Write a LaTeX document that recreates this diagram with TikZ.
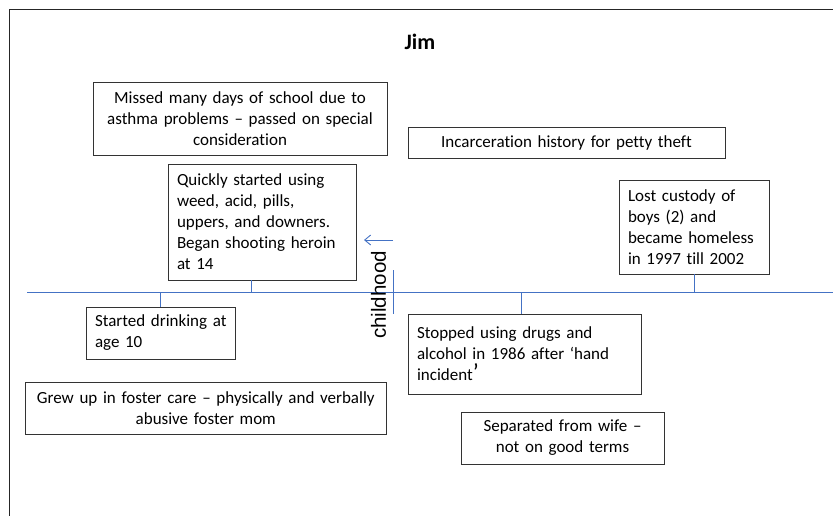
\documentclass[tikz,border=0pt]{standalone}
\usepackage{fontspec}
\setmainfont{Carlito}[Ligatures={NoCommon}]
\newfontfamily\sidefont{Liberation Sans}
\usetikzlibrary{arrows.meta}
\definecolor{tlblue}{HTML}{4472C4}
\newcommand\bodyf{\fontsize{17}{21}\selectfont}
\newcommand\oneln[1]{\mbox{#1}}
\tikzset{
  evbox/.style={draw=black!80, line width=0.9pt, inner xsep=9pt, inner ysep=0pt, font=\bodyf},
  tl/.style={draw=tlblue, line width=0.9pt},
}
\begin{document}
\begin{tikzpicture}[x=1pt,y=-1pt]
\useasboundingbox (0,0) rectangle (833,515);
% frame
\draw[black!85, line width=1.6pt] (840,9.5) -- (9.5,9.5) -- (9.5,520);
% title
\node[font=\fontsize{22}{26}\selectfont\bfseries] (title) at (420,42) {Jim};
% boxes
\node[evbox, minimum width=294pt, text width=276pt, minimum height=73pt, align=center] (missed) at (240,118.5)
  {\oneln{Missed many days of school due to}\\\oneln{asthma problems -- passed on special}\\consideration};
\node[evbox, minimum width=317pt, text width=299pt, minimum height=31pt, align=center] (incar) at (566.5,142.5)
  {\oneln{Incarceration history for petty theft}};
\node[evbox, minimum width=188pt, text width=170pt, minimum height=116pt, align=left] (quick) at (262,222)
  {\oneln{Quickly started using}\\\oneln{weed, acid, pills,}\\\oneln{uppers, and downers.}\\\oneln{Began shooting heroin}\\at 14};
\node[evbox, minimum width=150pt, text width=132pt, minimum height=94pt, align=left] (lost) at (694,227)
  {\oneln{Lost custody of}\\\oneln{boys (2) and}\\\oneln{became homeless}\\\oneln{in 1997 till 2002}};
\node[evbox, minimum width=149pt, text width=131pt, minimum height=52pt, align=left] (started) at (160.5,333)
  {\oneln{Started drinking at}\\age 10};
\node[evbox, minimum width=233pt, text width=215pt, minimum height=80pt, align=left] (stopped) at (524.5,354)
  {\oneln{Stopped using drugs and}\\\oneln{alcohol in 1986 after ‘hand}\\\oneln{incident{\fontsize{24}{21}\selectfont ’}}};
\node[evbox, minimum width=360.5pt, text width=342.5pt, minimum height=52pt, align=center] (grew) at (205.75,408)
  {\oneln{Grew up in foster care -- physically and verbally}\\\oneln{abusive foster mom}};
\node[evbox, minimum width=203pt, text width=185pt, minimum height=52pt, align=center] (sep) at (562.5,438)
  {\oneln{Separated from wife --}\\\oneln{not on good terms}};
% timeline
\coordinate (tlstart) at (27,292);
\coordinate (tlend) at (833,292);
\draw[tl] (tlstart) -- (tlend);
\coordinate (t1) at (160.5,292);
\coordinate (t2) at (251,292);
\coordinate (t3) at (521,292);
\coordinate (t4) at (694,292);
\draw[tl] (t1) -- (t1 |- started.north);
\draw[tl] (t2) -- (t2 |- quick.south);
\draw[tl] (t3) -- (t3 |- stopped.north);
\draw[tl] (t4) -- (t4 |- lost.south);
% childhood marker
\coordinate (cm1) at (393,270);
\coordinate (cm2) at (393,314);
\draw[tl] (cm1) -- (cm2);
\coordinate (ar1) at (393,240);
\coordinate (ar2) at (364,240);
\draw[tl, -{Straight Barb[length=6pt,width=10pt]}] (ar1) -- (ar2);
\node[rotate=90, font=\sidefont\fontsize{20.5}{24}\selectfont, inner sep=0pt] (child) at (378.5,295) {childhood};
\end{tikzpicture}
\end{document}
